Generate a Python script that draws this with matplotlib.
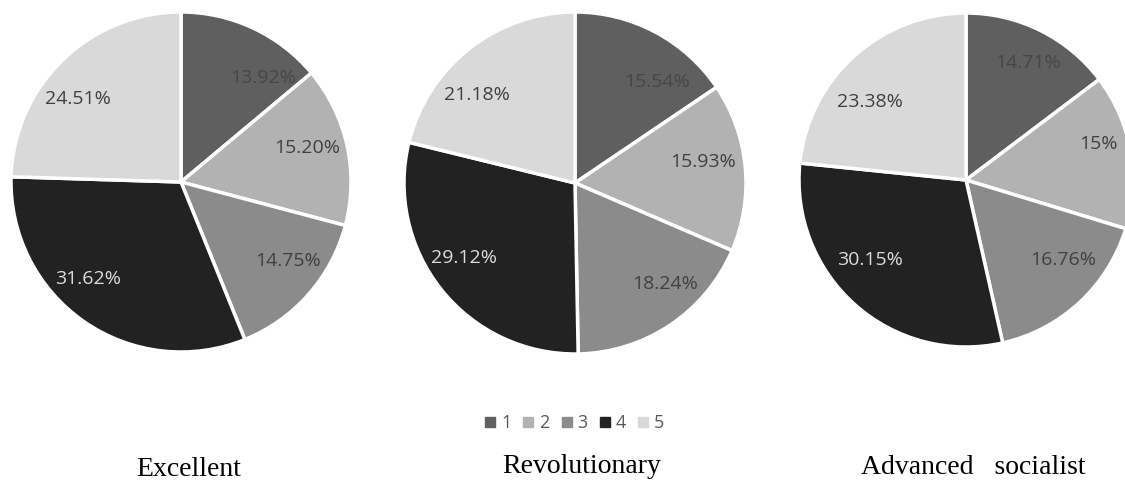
import numpy as np
import matplotlib.pyplot as plt
from matplotlib.lines import Line2D

# Данные трёх круговых диаграмм
categories = ['1', '2', '3', '4', '5']
titles = ['Excellent', 'Revolutionary', 'Advanced   socialist']
excellent = [13.92, 15.20, 14.75, 31.62, 24.51]
revolutionary = [15.54, 15.93, 18.24, 29.12, 21.18]
advanced = [14.71, 15.00, 16.76, 30.15, 23.38]
excellent_labels = ['13.92%', '15.20%', '14.75%', '31.62%', '24.51%']
revolutionary_labels = ['15.54%', '15.93%', '18.24%', '29.12%', '21.18%']
advanced_labels = ['14.71%', '15%', '16.76%', '30.15%', '23.38%']

colors = ['#5f5f5f', '#b2b2b2', '#8b8b8b', '#222222', '#d9d9d9']
text_colors = ['#474747', '#404040', '#404040', '#dcdcdc', '#404040']

W, H = 1125, 480
fig = plt.figure(figsize=(W / 100, H / 100), dpi=100, facecolor='white')

# центр (px), радиус, сдвиг подписей (градусы) и их удаление от центра
pies = [
    (excellent, excellent_labels, 181, 182, 170,
     [-13, 2.5, 5, -9, 7], [0.78, 0.77, 0.78, 0.79, 0.78]),
    (revolutionary, revolutionary_labels, 575, 183, 171,
     [-11, 4, 8, -4.6, 10], [0.76, 0.76, 0.79, 0.78, 0.77]),
    (advanced, advanced_labels, 966, 180, 167,
     [-1.5, 5, 7.5, -8.5, 9], [0.79, 0.82, 0.755, 0.75, 0.74]),
]

for values, labels, cx, cy, r, shifts, dists in pies:
    ax = fig.add_axes([(cx - r) / W, (H - cy - r) / H, 2 * r / W, 2 * r / H])
    ax.pie(values, colors=colors, startangle=90, counterclock=False, radius=1,
           wedgeprops=dict(edgecolor='white', linewidth=2.5))
    ax.set_xlim(-1, 1)
    ax.set_ylim(-1, 1)
    ax.axis('off')
    # подписи процентов
    total = sum(values)
    start = 90
    for v, lab, tc, sh, d in zip(values, labels, text_colors, shifts, dists):
        ang = np.deg2rad(start - v / total * 180 + sh)
        start -= v / total * 360
        ax.text(d * np.cos(ang), d * np.sin(ang), lab, ha='center', va='center',
                fontsize=14, color=tc, family='Open Sans')

# Подписи под диаграммами
for title, x, y in zip(titles, [189, 582, 973], [476, 473, 474]):
    fig.text(x / W, 1 - y / H, title, ha='center', va='baseline',
             fontsize=20, family='Liberation Serif', color='black')

# Легенда
handles = [Line2D([], [], marker='s', linestyle='', color=c, markersize=6.5) for c in colors]
fig.legend(handles, categories, loc='center', bbox_to_anchor=(575 / W, 1 - 423 / H),
           ncol=5, frameon=False, handlelength=0.5, handletextpad=0.35, columnspacing=0.7,
           prop={'family': 'Open Sans', 'size': 13}, labelcolor='#595959')

fig.savefig('out.png', dpi=100, facecolor='white')
